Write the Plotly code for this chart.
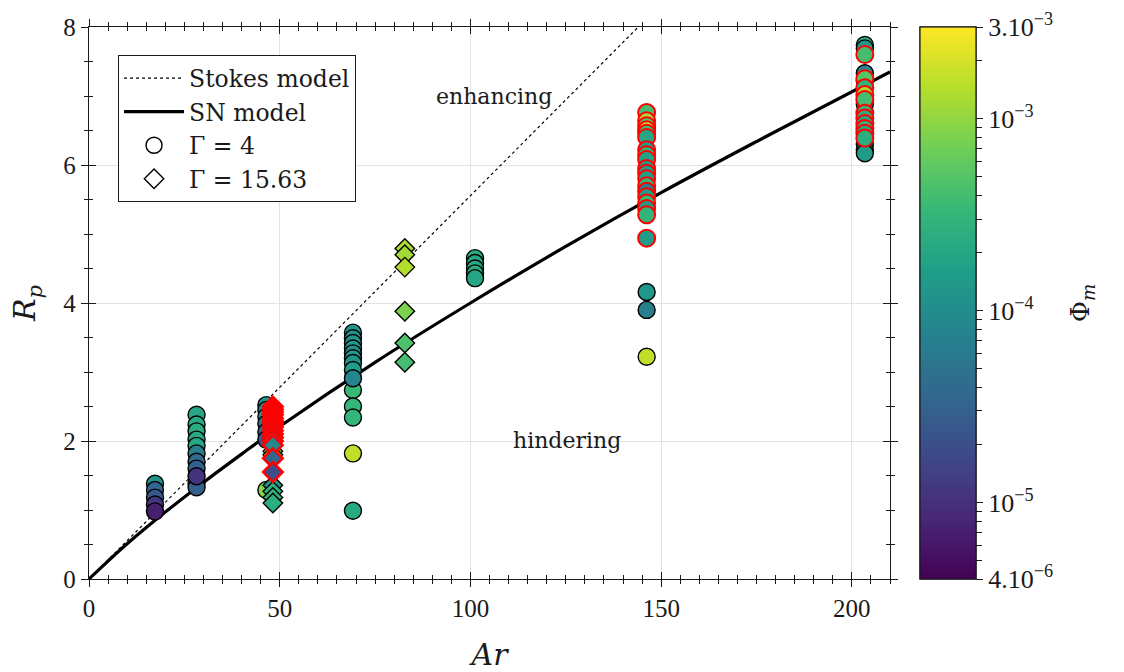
import numpy as np
import plotly.graph_objects as go

# ---------------- data ----------------
# Stokes model (straight line) and SN model curve
stokes_ar = [0, 144]
stokes_rp = [0, 8]
sn_ar = [0, 5, 10, 20, 30, 40, 50, 75, 100, 125, 150, 175, 210]
sn_rp = [0, 0.26, 0.51, 0.97, 1.40, 1.81, 2.21, 3.14, 4.0, 4.82, 5.6, 6.34, 7.35]

# Gamma = 4 (circles), black edge
c_blk_ar = [17.3] * 5 + [28.2] * 11 + [46.5] * 7 + [69.2] * 14 + [101.2] * 5 + [146.2] * 3 + [203.4] * 8
c_blk_rp = [1.38, 1.29, 1.18, 1.08, 0.98,
            2.38, 2.24, 2.14, 2.02, 1.93, 1.82, 1.70, 1.60, 1.39, 1.33, 1.49,
            2.52, 2.45, 2.35, 2.25, 2.13, 2.02, 1.29,
            3.57, 3.49, 3.42, 3.34, 3.27, 3.20, 3.13, 3.03, 2.74, 2.50, 2.34, 2.91, 1.82, 0.99,
            4.65, 4.58, 4.50, 4.43, 4.36,
            4.16, 3.90, 3.22,
            7.74, 7.69, 7.33, 7.22, 6.88, 6.30, 6.22, 6.17]
c_blk_phi = [1.2e-4, 3.5e-5, 2.5e-5, 1.2e-5, 7e-6,
             2.0e-4, 2.2e-4, 2.4e-4, 2.2e-4, 2.0e-4, 7e-5, 4e-5, 3e-5, 3.5e-5, 3e-5, 1.1e-5,
             1.3e-4, 1.0e-4, 1.2e-4, 6e-5, 4e-5, 2.5e-5, 9e-4,
             1.3e-4, 1.2e-4, 1.3e-4, 1.4e-4, 1.2e-4, 1.5e-4, 1.3e-4, 1.6e-4, 3.5e-4, 3.2e-4, 3.2e-4, 8e-5, 1.6e-3, 2.2e-4,
             2.2e-4, 2.0e-4, 2.2e-4, 2.4e-4, 2.0e-4,
             1.3e-4, 7e-5, 1.6e-3,
             3e-4, 1.3e-4, 8e-5, 1.2e-4, 1.2e-4, 1.3e-4, 1.0e-4, 1.5e-4]

# Gamma = 4 (circles), red edge
c_red_ar = [146.2] * 19 + [203.4] * 11
c_red_rp = [6.76, 6.64, 6.57, 6.51, 6.46, 6.40, 6.22, 6.15, 6.08, 5.95, 5.88, 5.80, 5.70, 5.62, 5.54, 5.45, 5.37, 5.28, 4.94,
            7.60, 7.25, 7.12, 7.02, 6.95, 6.75, 6.68, 6.60, 6.53, 6.46, 6.39]
c_red_phi = [4e-4, 1.2e-3, 5e-4, 2e-3, 4e-4, 2e-4, 1.5e-4, 3e-4, 1.8e-4, 1.5e-4, 1.4e-4, 1.6e-4, 3e-4, 7e-5, 1.5e-4, 3.5e-4, 1.4e-4, 3e-4, 1.5e-4,
             4e-4, 5e-4, 3e-4, 1.3e-3, 4e-4, 3e-4, 2.5e-4, 2e-4, 3e-4, 2e-4, 2.5e-4]

# Gamma = 15.63 (diamonds), black edge
d_blk_ar = [48.2] * 9 + [82.8] * 6
d_blk_rp = [2.45, 2.30, 2.15, 1.85, 1.80, 1.36, 1.27, 1.18, 1.10,
            4.79, 4.70, 4.52, 3.88, 3.42, 3.14]
d_blk_phi = [2e-4, 2e-4, 1.8e-4, 1.3e-3, 1.5e-3, 1.4e-4, 2.5e-4, 3e-4, 2.5e-4,
             1.3e-3, 1.2e-3, 1.4e-3, 8e-4, 4.5e-4, 4e-4]

# Gamma = 15.63 (diamonds), red edge
d_red_ar = [48.2] * 15
d_red_rp = [2.50, 2.46, 2.42, 2.38, 2.33, 2.29, 2.25, 2.20, 2.15, 2.10, 2.05, 2.00, 1.94, 1.75, 1.55]
d_red_phi = [1.2e-4, 1.3e-4, 1.1e-4, 1.2e-4, 1.0e-4, 1.2e-4, 1.1e-4, 1.3e-4, 1.0e-4, 9e-5, 1.1e-4, 1.0e-4, 9e-5, 3.5e-5, 2e-5]

# axis / colorbar ticks
x_major = [0, 50, 100, 150, 200]
y_major = [0, 2, 4, 6, 8]
cb_major = [4e-6, 1e-5, 1e-4, 1e-3, 3e-3]
cb_major_text = ["4.10<sup>−6</sup>", "10<sup>−5</sup>", "10<sup>−4</sup>", "10<sup>−3</sup>", "3.10<sup>−3</sup>"]
cb_minor = [5e-6, 6e-6, 7e-6, 8e-6, 9e-6,
            2e-5, 3e-5, 4e-5, 5e-5, 6e-5, 7e-5, 8e-5, 9e-5,
            2e-4, 3e-4, 4e-4, 5e-4, 6e-4, 7e-4, 8e-4, 9e-4, 2e-3]
phi_min, phi_max = 4e-6, 3e-3

# ---------------- styling ----------------
NUM_FONT = "Liberation Serif"
TXT_FONT = "DejaVu Serif"
AX = "#1a1a1a"

fig = go.Figure()

fig.add_trace(go.Scatter(x=stokes_ar, y=stokes_rp, mode="lines", name="Stokes model",
                         line=dict(color="black", width=1.2, dash="dot")))
fig.add_trace(go.Scatter(x=sn_ar, y=sn_rp, mode="lines", name="SN model",
                         line=dict(color="black", width=3.2, shape="spline")))

def pts(ar, rp, phi, symbol, size, edge, ew):
    return go.Scatter(x=ar, y=rp, mode="markers", showlegend=False, hoverinfo="x+y",
                      marker=dict(symbol=symbol, size=size, color=list(np.log10(phi)),
                                  coloraxis="coloraxis", line=dict(color=edge, width=ew)))

fig.add_trace(pts(c_blk_ar, c_blk_rp, c_blk_phi, "circle", 17, "black", 1.4))
fig.add_trace(pts(d_blk_ar, d_blk_rp, d_blk_phi, "diamond", 15, "black", 1.4))
fig.add_trace(pts(c_red_ar, c_red_rp, c_red_phi, "circle", 17, "#ff0000", 2.0))
fig.add_trace(pts(d_red_ar, d_red_rp, d_red_phi, "diamond", 15, "#ff0000", 2.6))

# legend-only entries
fig.add_trace(go.Scatter(x=[None], y=[None], mode="markers", name="Γ = 4",
                         marker=dict(symbol="circle", size=16, color="white", line=dict(color="black", width=1.4))))
fig.add_trace(go.Scatter(x=[None], y=[None], mode="markers", name="Γ = 15.63",
                         marker=dict(symbol="diamond", size=15, color="white", line=dict(color="black", width=1.4))))

# dummy traces: overlay axes (inside ticks) and a second colour bar carrying the minor ticks
fig.add_trace(go.Scatter(x=[None], y=[None], xaxis="x2", yaxis="y2", showlegend=False, hoverinfo="skip"))
fig.add_trace(go.Scatter(x=[None], y=[None], mode="markers", showlegend=False, hoverinfo="skip",
                         marker=dict(color=[np.log10(1e-4)], coloraxis="coloraxis2")))

xr = [0, 210]
yr = [0, 8]
cmin, cmax = np.log10(phi_min), np.log10(phi_max)

cb_common = dict(x=1.0375, xanchor="left", y=0.5, yanchor="middle", len=1, lenmode="fraction",
                 thickness=56, xpad=0, ypad=0, outlinewidth=1.2, outlinecolor=AX,
                 ticks="outside", tickwidth=1.2, tickcolor=AX)

fig.update_layout(
    width=1124, height=672,
    margin=dict(l=89, r=234, t=27, b=93, autoexpand=False),
    paper_bgcolor="white", plot_bgcolor="white",
    font=dict(family=NUM_FONT, size=25, color=AX),
    coloraxis2=dict(
        colorscale="Viridis", cmin=cmin, cmax=cmax,
        colorbar=dict(**cb_common, tickmode="array", tickvals=[np.log10(v) for v in cb_minor],
                      ticklen=6, showticklabels=False),
    ),
    coloraxis=dict(
        colorscale="Viridis", cmin=cmin, cmax=cmax,
        colorbar=dict(**cb_common, tickmode="array", tickvals=[np.log10(v) for v in cb_major],
                      ticktext=cb_major_text, ticklen=7,
                      tickfont=dict(family=NUM_FONT, size=26, color=AX)),
    ),
    xaxis=dict(
        range=xr, tickmode="array", tickvals=x_major, showgrid=True, gridcolor="#e3e3e3", gridwidth=1,
        zeroline=False, showline=True, linecolor=AX, linewidth=1.3, mirror="ticks", automargin=False,
        ticks="outside", ticklen=7, tickwidth=1.2, tickcolor=AX,
        minor=dict(dtick=5, tick0=0, ticks="outside", ticklen=4, tickwidth=1, tickcolor=AX, showgrid=False),
        tickfont=dict(family=NUM_FONT, size=25, color=AX),
        title=dict(text="<i>Ar</i>", font=dict(family=TXT_FONT, size=30, color=AX), standoff=30),
    ),
    yaxis=dict(
        range=yr, tickmode="array", tickvals=y_major, showgrid=True, gridcolor="#e3e3e3", gridwidth=1,
        zeroline=False, showline=True, linecolor=AX, linewidth=1.3, mirror="ticks", automargin=False,
        ticks="outside", ticklen=7, tickwidth=1.2, tickcolor=AX,
        minor=dict(dtick=0.5, tick0=0, ticks="outside", ticklen=4, tickwidth=1, tickcolor=AX, showgrid=False),
        tickfont=dict(family=NUM_FONT, size=25, color=AX),
        title=dict(text="<i>R</i><sub><i>p</i></sub>", font=dict(family=TXT_FONT, size=30, color=AX), standoff=18),
    ),
    xaxis2=dict(
        overlaying="x", anchor="y2", range=xr, tickmode="array", tickvals=x_major, showgrid=False,
        zeroline=False, showline=False, showticklabels=False, mirror="ticks",
        ticks="inside", ticklen=7, tickwidth=1.2, tickcolor=AX,
        minor=dict(dtick=5, tick0=0, ticks="inside", ticklen=4, tickwidth=1, tickcolor=AX, showgrid=False),
    ),
    yaxis2=dict(
        overlaying="y", anchor="x2", range=yr, tickmode="array", tickvals=y_major, showgrid=False,
        zeroline=False, showline=False, showticklabels=False, mirror="ticks",
        ticks="inside", ticklen=7, tickwidth=1.2, tickcolor=AX,
        minor=dict(dtick=0.5, tick0=0, ticks="inside", ticklen=4, tickwidth=1, tickcolor=AX, showgrid=False),
    ),
    legend=dict(
        x=0.036, y=0.949, xanchor="left", yanchor="top",
        bgcolor="white", bordercolor=AX, borderwidth=1.2,
        font=dict(family=TXT_FONT, size=23.5, color=AX),
        itemwidth=60, tracegroupgap=0,
    ),
    annotations=[
        dict(x=106.2, y=7.0, xref="x", yref="y", text="enhancing", showarrow=False,
             font=dict(family=TXT_FONT, size=22, color=AX)),
        dict(x=125.3, y=2.01, xref="x", yref="y", text="hindering", showarrow=False,
             font=dict(family=TXT_FONT, size=22, color=AX)),
        dict(x=1.262, y=0.5, xref="paper", yref="paper", text="Φ<sub><i>m</i></sub>", showarrow=False,
             textangle=-90, font=dict(family=TXT_FONT, size=26, color=AX)),
    ],
)

fig.write_html("out.html")
